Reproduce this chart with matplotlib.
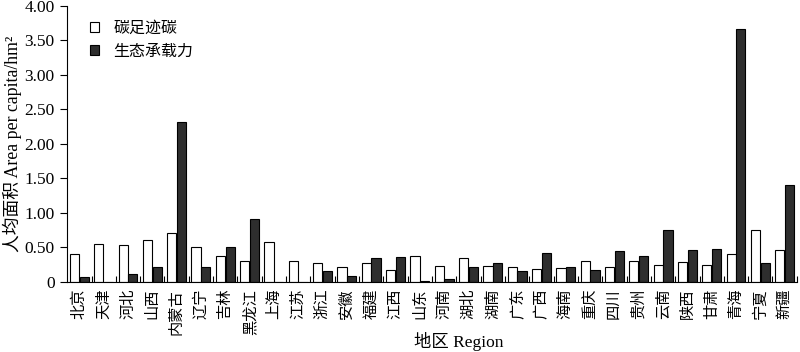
#!/usr/bin/env python
# Per capita carbon footprint vs ecological carrying capacity by province
import matplotlib
matplotlib.use("Agg")
import matplotlib.pyplot as plt
import numpy as np
from matplotlib.ticker import FixedLocator

plt.rcParams['font.family'] = ['Liberation Serif', 'Noto Sans CJK SC']

regions = ["北京", "天津", "河北", "山西", "内蒙古", "辽宁", "吉林", "黑龙江", "上海", "江苏",
           "浙江", "安徽", "福建", "江西", "山东", "河南", "湖北", "湖南", "广东", "广西",
           "海南", "重庆", "四川", "贵州", "云南", "陕西", "甘肃", "青海", "宁夏", "新疆"]
carbon_footprint = [0.40, 0.55, 0.54, 0.61, 0.71, 0.50, 0.38, 0.30, 0.58, 0.31,
                    0.27, 0.21, 0.27, 0.17, 0.37, 0.23, 0.35, 0.23, 0.22, 0.19,
                    0.20, 0.30, 0.22, 0.31, 0.24, 0.29, 0.25, 0.41, 0.75, 0.46]
carrying_capacity = [0.07, 0.005, 0.11, 0.22, 2.32, 0.21, 0.51, 0.91, 0.005, 0.005,
                     0.16, 0.09, 0.35, 0.36, 0.02, 0.05, 0.22, 0.28, 0.16, 0.42,
                     0.22, 0.18, 0.45, 0.37, 0.76, 0.47, 0.48, 3.67, 0.28, 1.41]
yticks = [0, 0.5, 1.0, 1.5, 2.0, 2.5, 3.0, 3.5, 4.0]
yticklabels = ["0", "0.50", "1.00", "1.50", "2.00", "2.50", "3.00", "3.50", "4.00"]

fig = plt.figure(figsize=(8, 3.52), dpi=100)
ax = fig.add_axes([0.084, 0.199, 0.912, 0.784])

x = np.arange(len(regions))
bw = 0.38
ax.bar(x - bw/2 - 0.01, carbon_footprint, bw, color="white", edgecolor="black", lw=0.8, label="碳足迹碳")
ax.bar(x + bw/2 + 0.01, carrying_capacity, bw, color="#2e2e2e", edgecolor="black", lw=0.8, label="生态承载力")

ax.set_xlim(-0.5, len(regions) - 0.5)
ax.set_ylim(0, 4.0)
ax.set_yticks(yticks)
ax.set_yticklabels(yticklabels, fontsize=12.5)
ax.tick_params(axis='y', direction='out', length=5, width=0.8, pad=4)

# category labels rotated, small tick marks between groups
ax.set_xticks(x)
ax.set_xticklabels(regions, fontsize=11, rotation=90, va='top', ha='center')
ax.tick_params(axis='x', which='major', length=0, pad=5)
ax.xaxis.set_minor_locator(FixedLocator(x + 0.5))
ax.tick_params(axis='x', which='minor', direction='in', length=4, width=0.8)

for s in ['top', 'right']:
    ax.spines[s].set_visible(False)
for s in ['left', 'bottom']:
    ax.spines[s].set_linewidth(0.8)

ax.set_ylabel("人均面积 Area per capita/hm²", fontsize=12.8)
ax.yaxis.set_label_coords(-0.062, 0.50)
ax.set_xlabel("地区 Region", fontsize=12.5)
ax.xaxis.set_label_coords(0.537, -0.18)

ax.legend(loc='upper left', bbox_to_anchor=(0.022, 0.97), frameon=False, fontsize=11.5,
          handlelength=0.6, handleheight=0.6, handletextpad=0.9, labelspacing=0.45,
          borderaxespad=0)

fig.savefig("out.png", dpi=100)
plt.close(fig)
